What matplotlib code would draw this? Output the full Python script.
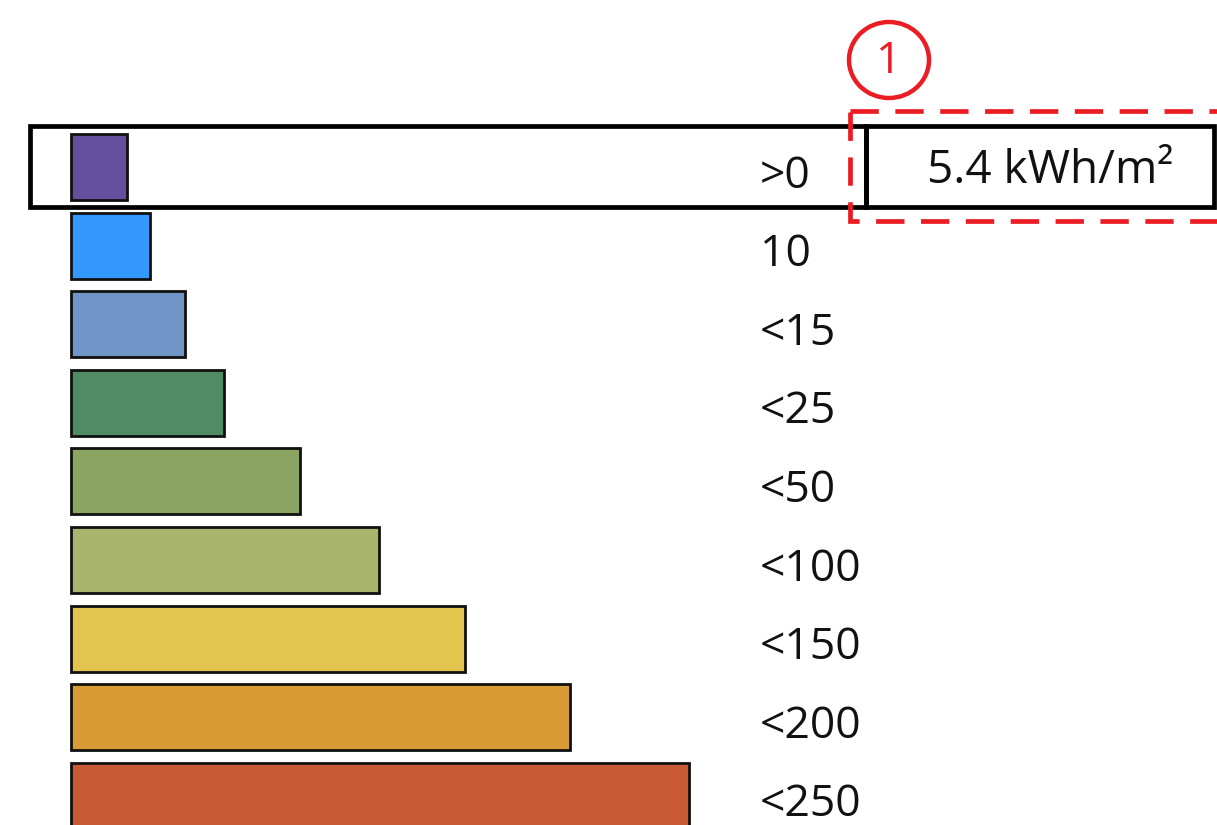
import matplotlib
matplotlib.use("Agg")
import matplotlib.pyplot as plt
from matplotlib.patches import Rectangle, Ellipse

# Energy classes, shortest bar at the top
classes = [">0", "10", "<15", "<25", "<50", "<100", "<150", "<200", "<250"]
bar_lengths = [56, 79, 114, 153, 229, 308, 394, 499, 618]
bar_colors = ["#634f9b", "#3399ff", "#7096c8", "#4f8c64", "#8aa562",
              "#a9b46c", "#e2c44f", "#d99b35", "#c95a33"]
value_text = "5.4 kWh/m\u00b2"
marker_text = "1"
highlight = 0

W, H = 1217, 825
fig = plt.figure(figsize=(W / 100, H / 100), dpi=100)
fig.patch.set_facecolor("white")

font = ["Open Sans", "DejaVu Sans"]
red = "#ea1c24"

# Bars: x in pixel units, y as class index
pitch = 78.6
y0 = 167
ax = fig.add_axes([0, 0, 1, 1])
ax.set_xlim(0, W)
ax.set_ylim((H - y0) / pitch, -y0 / pitch)
ax.axis("off")

ax.barh(range(len(classes)), bar_lengths, left=71, height=0.84,
        color=bar_colors, edgecolor="#111111", linewidth=2.0, zorder=2)

for i, lab in enumerate(classes):
    ax.text(760, i + 0.12, lab, ha="left", va="center", fontsize=32,
            family=font, color="#111111")

# Decorations in pixel coordinates
ov = fig.add_axes([0, 0, 1, 1], facecolor="none")
ov.set_xlim(0, W)
ov.set_ylim(H, 0)
ov.axis("off")

# Highlighted row frame and value box
ov.add_patch(Rectangle((30, 126), 836, 81, fill=False,
                       edgecolor="black", linewidth=3.4, zorder=3))
ov.add_patch(Rectangle((866, 126), 348, 81, fill=False,
                       edgecolor="black", linewidth=3.4, zorder=3))
ov.text(1050, 171, value_text, ha="center", va="center", fontsize=33,
        family=font, color="#111111")

# Red dashed callout
ov.add_patch(Rectangle((850, 111), 420, 110, fill=False,
                       edgecolor=red, linewidth=3.4,
                       linestyle=(0, (6, 3.5)), zorder=4))
ov.add_patch(Ellipse((889, 60), 80, 76, fill=False,
                     edgecolor=red, linewidth=3.2, zorder=4))
ov.text(889, 62, marker_text, ha="center", va="center", fontsize=32,
        family=font, color=red)

fig.savefig("out.png", dpi=100, facecolor="white")
